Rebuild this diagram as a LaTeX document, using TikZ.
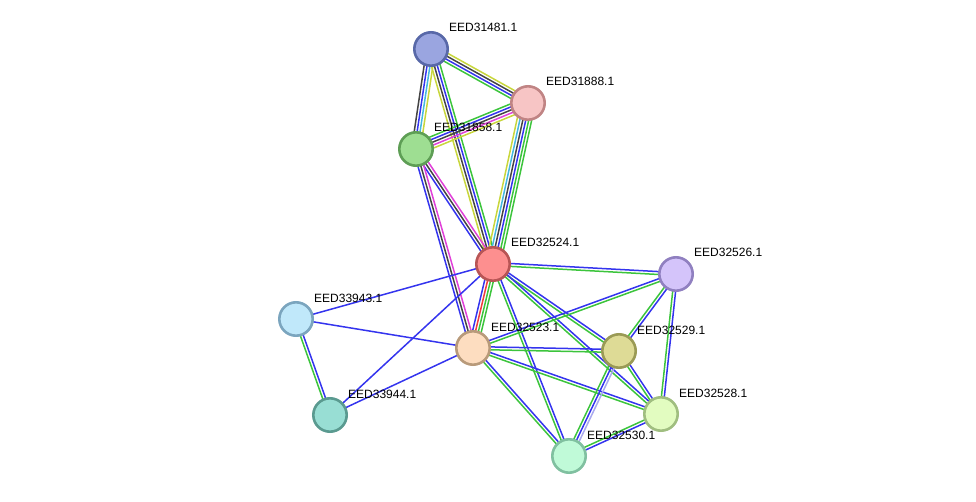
\documentclass[tikz,border=0pt]{standalone}
\usepackage{fontspec}
\setmainfont{Liberation Sans}
\usetikzlibrary{calc}
\pgfdeclarelayer{bg}
\pgfsetlayers{bg,main}
\definecolor{sgreen}{HTML}{3CC43C}
\definecolor{sblue}{HTML}{3434EE}
\definecolor{sblack}{HTML}{444444}
\definecolor{syellow}{HTML}{C8D63C}
\definecolor{scyan}{HTML}{44B8E0}
\definecolor{smagenta}{HTML}{E040D8}
\definecolor{sred}{HTML}{F03C3C}
\definecolor{slav}{HTML}{AAAAEE}
\newcommand{\medge}[4]{%
  \foreach \c [count=\i] in {#4}{%
    \pgfmathsetmacro\off{(\i-(#3+1)/2)*2.9}%
    \draw[color=\c, line width=1.5pt] ($(#1.center)!\off pt!90:(#2.center)$) -- ($(#2.center)!\off pt!-90:(#1.center)$);
  }%
}
\begin{document}
\begin{tikzpicture}[x=1pt,y=-1pt,
  prot/.style={circle, minimum size=33.4pt, inner sep=0pt, line width=2.6pt},
  lab/.style={anchor=base west, font=\fontsize{12}{14}\selectfont, inner sep=0pt, text=black}]
\useasboundingbox (0,0) rectangle (976,502);
% nodes
\node[prot, fill={rgb,255:red,154;green,165;blue,224}, draw={rgb,255:red,88;green,104;blue,168}] (n31481) at (431,49) {};
\node[prot, fill={rgb,255:red,247;green,197;blue,197}, draw={rgb,255:red,192;green,132;blue,132}] (n31888) at (528,103) {};
\node[prot, fill={rgb,255:red,158;green,222;blue,146}, draw={rgb,255:red,94;green,158;blue,85}] (n31858) at (416,149) {};
\node[prot, fill={rgb,255:red,253;green,143;blue,143}, draw={rgb,255:red,184;green,85;blue,85}] (n32524) at (493,264) {};
\node[prot, fill={rgb,255:red,212;green,196;blue,250}, draw={rgb,255:red,144;green,128;blue,192}] (n32526) at (676,274) {};
\node[prot, fill={rgb,255:red,192;green,232;blue,250}, draw={rgb,255:red,123;green,165;blue,190}] (n33943) at (296,319) {};
\node[prot, fill={rgb,255:red,253;green,221;blue,192}, draw={rgb,255:red,184;green,154;blue,122}] (n32523) at (473,348) {};
\node[prot, fill={rgb,255:red,222;green,219;blue,150}, draw={rgb,255:red,154;green,154;blue,85}] (n32529) at (619,351) {};
\node[prot, fill={rgb,255:red,226;green,252;blue,192}, draw={rgb,255:red,160;green,190;blue,128}] (n32528) at (661,414) {};
\node[prot, fill={rgb,255:red,152;green,222;blue,212}, draw={rgb,255:red,90;green,154;blue,144}] (n33944) at (330,415) {};
\node[prot, fill={rgb,255:red,192;green,250;blue,216}, draw={rgb,255:red,128;green,192;blue,160}] (n32530) at (569,456) {};
% labels
\node[lab] (l31481) at (449,32) {EED31481.1};
\node[lab] (l31888) at (546,86) {EED31888.1};
\node[lab] (l31858) at (434,132) {EED31858.1};
\node[lab] (l32524) at (511,247) {EED32524.1};
\node[lab] (l32526) at (694,257) {EED32526.1};
\node[lab] (l33943) at (314,302) {EED33943.1};
\node[lab] (l32523) at (491,331) {EED32523.1};
\node[lab] (l32529) at (637,334) {EED32529.1};
\node[lab] (l32528) at (679,397) {EED32528.1};
\node[lab] (l33944) at (348,398) {EED33944.1};
\node[lab] (l32530) at (587,439) {EED32530.1};
% edges
\begin{pgfonlayer}{bg}
\medge{n31481}{n31888}{4}{sgreen,sblue,sblack,syellow}
\medge{n31481}{n31858}{4}{sblack,sblue,scyan,syellow}
\medge{n31481}{n32524}{4}{syellow,sblack,sblue,sgreen}
\medge{n31888}{n31858}{5}{sgreen,sblue,sblack,smagenta,syellow}
\medge{n31888}{n32524}{6}{syellow,scyan,sblack,sblue,sgreen,sgreen}
\medge{n31858}{n32524}{3}{sblue,sblack,smagenta}
\medge{n31858}{n32523}{3}{sblue,sblack,smagenta}
\medge{n32524}{n32523}{4}{sblue,sred,sgreen,sgreen}
\medge{n32524}{n32526}{2}{sgreen,sblue}
\medge{n32524}{n33943}{1}{sblue}
\medge{n32524}{n33944}{1}{sblue}
\medge{n32524}{n32529}{2}{sgreen,sblue}
\medge{n32524}{n32528}{2}{sgreen,sblue}
\medge{n32524}{n32530}{2}{sgreen,sblue}
\medge{n32523}{n33943}{1}{sblue}
\medge{n32523}{n33944}{1}{sblue}
\medge{n32523}{n32526}{2}{sgreen,sblue}
\medge{n32523}{n32529}{2}{sgreen,sblue}
\medge{n32523}{n32528}{2}{sgreen,sblue}
\medge{n32523}{n32530}{2}{sgreen,sblue}
\medge{n33943}{n33944}{2}{sgreen,sblue}
\medge{n32526}{n32529}{2}{sgreen,sblue}
\medge{n32526}{n32528}{2}{sgreen,sblue}
\medge{n32529}{n32528}{2}{sgreen,sblue}
\medge{n32529}{n32530}{3}{sgreen,sblue,slav}
\medge{n32528}{n32530}{2}{sgreen,sblue}
\end{pgfonlayer}
\end{tikzpicture}
\end{document}
